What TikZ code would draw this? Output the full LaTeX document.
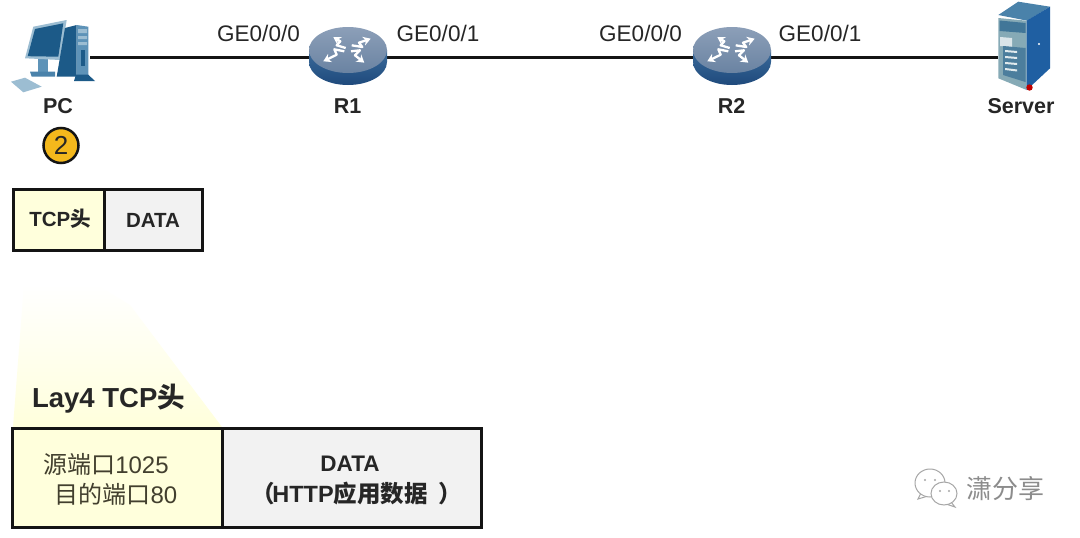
\documentclass[tikz,border=0pt]{standalone}
\usepackage{fontspec}
\setmainfont{Liberation Sans}
\newfontfamily\cjk{Noto Sans CJK SC}
\usetikzlibrary{arrows.meta}
\newcommand{\fsz}[1]{\fontsize{#1}{#1}\selectfont}
\definecolor{linkc}{HTML}{141414}
\definecolor{txtc}{HTML}{262626}
\definecolor{hdrc}{HTML}{FFFFDC}
\definecolor{datac}{HTML}{F2F2F2}
\definecolor{rtopa}{HTML}{8C9FB8}
\definecolor{rtopb}{HTML}{6A83A2}
\definecolor{rsidea}{HTML}{3A6A9A}
\definecolor{rsideb}{HTML}{1F4A7C}
\definecolor{pcdark}{HTML}{1C5A88}
\definecolor{pcmid}{HTML}{5E93B8}
\definecolor{pclight}{HTML}{9CBDD2}
\definecolor{srvside}{HTML}{1F5FA2}
\definecolor{srvfront}{HTML}{86AAB6}
\definecolor{badge}{HTML}{F4B81C}
\tikzset{
  iconbox/.style={inner sep=0pt,minimum height=40pt},
  link/.style={draw=linkc,line width=3pt},
  port/.style={text=txtc,font=\fsz{22.5},inner sep=0pt},
  devname/.style={text=txtc,font=\fsz{21.5}\bfseries,inner sep=0pt},
  cell/.style={draw=linkc,line width=3pt,outer sep=0pt,inner sep=0pt,anchor=north west},
  hdrtext/.style={text=txtc,font=\fsz{20.5}\bfseries,inner sep=0pt},
  wm/.style={draw=black!35,line width=1pt,fill=white},
  rarrow/.style={draw=white,line width=2.3pt,line join=round,-{Stealth[length=7.5pt,width=9pt]}},
  pics/router/.style={code={
    \shade[top color=rsidea,bottom color=rsideb] (-39,-7) -- (-39,5) arc[start angle=180,end angle=0,x radius=39,y radius=23] -- (39,-7) -- cycle;
    \shade[top color=rtopa,bottom color=rtopb] (0,-7) ellipse[x radius=39,y radius=23];
    \draw[rarrow] (-2.3,-9) -- (-11.3,-11.7) -- (-7.7,-15.7) -- (-14.7,-20);
    \draw[rarrow] (3.7,-11.7) -- (14.3,-10) -- (11,-14.3) -- (22.7,-18.3);
    \draw[rarrow] (-3.7,-5.7) -- (-13.7,-7.7) -- (-11.3,-2.3) -- (-24.7,4.3);
    \draw[rarrow] (3,-5.7) -- (12,-6.7) -- (7,-1.7) -- (16.3,5.7);
  }}
}
\begin{document}
\begin{tikzpicture}[x=1pt,y=-1pt]
\useasboundingbox (0,0) rectangle (1080,538);
\fill[white] (0,0) rectangle (1080,538);

% nodes standing for the device icons
\node[iconbox,minimum width=46pt] (pc) at (67,57) {};
\node[iconbox,minimum width=76pt] (r1) at (348,57) {};
\node[iconbox,minimum width=76pt] (r2) at (732,57) {};
\node[iconbox,minimum width=52pt] (srv) at (1024,57) {};

% links
\draw[link] (pc.east) -- (r1.west);
\draw[link] (r1.east) -- (r2.west);
\draw[link] (r2.east) -- (srv.west);

% PC icon
\fill[pcmid] (38,58) rectangle (48,72);
\fill[pcmid!70!pcdark] (30,71.7) -- (55,71.7) -- (55,76.7) -- (31.7,76.7) -- cycle;
\fill[pclight] (33.3,26.7) -- (66.7,20) -- (60,60) -- (25,58.3) -- cycle;
\fill[pcdark] (35,29) -- (63.3,23.3) -- (58.3,56.7) -- (27.7,56.2) -- cycle;
\fill[pcdark] (65,28) -- (76.7,25) -- (76.7,76.7) -- (56.7,76.7) -- cycle;
\fill[pcmid] (76.7,25) -- (88.3,26.7) -- (88.3,76.7) -- (76.7,76.7) -- cycle;
\fill[pclight] (78,29) rectangle (87,33) (78,36) rectangle (87,39) (78,42) rectangle (87,45);
\fill[pcdark] (81,50) rectangle (84.5,66);
\fill[pcdark] (76,74.5) -- (88,74.5) -- (95,81) -- (74,81) -- cycle;
\fill[pclight] (11,81.7) -- (25,77.7) -- (41.7,86.7) -- (23.3,92.3) -- cycle;

% router icons
\pic at (348,57) {router};
\pic at (732,57) {router};

% server icon
\fill[pcmid!70!pcdark] (998.3,15) -- (1018.3,1.7) -- (1050,6.7) -- (1027.3,20.7) -- cycle;
\fill[srvfront] (998.3,18) -- (1026.7,20.7) -- (1026.7,90) -- (998.3,78.3) -- cycle;
\fill[srvside] (1026.7,20.7) -- (1050,6.7) -- (1050,68.3) -- (1026.7,90) -- cycle;
\fill[pcdark!65!srvfront] (999.5,20.5) -- (1025.5,23) -- (1025.5,33) -- (999.5,31) -- cycle;
\fill[white!70!srvfront] (1000,37) -- (1012,38) -- (1012,47) -- (1000,46) -- cycle;
\fill[pcdark!55!srvfront] (1003,46) -- (1025.5,48) -- (1025.5,82) -- (1003,75) -- cycle;
\fill[white!75!srvfront] (1005,50) -- (1017,51) -- (1017,53) -- (1005,52) -- cycle
  (1005,56) -- (1017,57) -- (1017,59) -- (1005,58) -- cycle
  (1005,62) -- (1017,63) -- (1017,65) -- (1005,64) -- cycle
  (1005,68) -- (1017,69.5) -- (1017,71.5) -- (1005,70) -- cycle;
\fill[white] (1039,44) circle[radius=1.2];
\fill[red!75!black] (1029.5,87.5) circle[radius=3.2];

% device and port labels
\node[port] (p1) at (258.5,33) {GE0/0/0};
\node[port] (p2) at (438,33) {GE0/0/1};
\node[port] (p3) at (640.5,33) {GE0/0/0};
\node[port] (p4) at (820,33) {GE0/0/1};
\node[devname] (lpc) at (58,106) {PC};
\node[devname] (lr1) at (347.5,106) {R1};
\node[devname] (lr2) at (731.5,106) {R2};
\node[devname] (lsrv) at (1021,106) {Server};

% step badge
\node[circle,draw=linkc,line width=2.5pt,fill=badge,minimum size=35pt,inner sep=0pt,text=txtc,font=\fsz{26}] (step2) at (61,145.5) {2};

% small packet
\node[cell,fill=hdrc,minimum width=91pt,minimum height=61pt] (h1) at (13,189) {};
\node[cell,fill=datac,minimum width=98pt,minimum height=61pt] (d1) at (104,189) {};
\node[hdrtext] (h1t) at (60,219) {TCP{\cjk 头}};
\node[hdrtext] (d1t) at (153,220) {DATA};

% spotlight
\shade[top color=white,bottom color=hdrc] (13,427) -- (24,284) -- (95,284) -- (130,305) -- (222,427) -- cycle;

% large packet
\node[cell,fill=hdrc,minimum width=210pt,minimum height=99pt] (h2) at (12,428) {};
\node[cell,fill=datac,minimum width=259pt,minimum height=99pt] (d2) at (222,428) {};
\node[text=txtc,font=\fsz{27.5}\bfseries,inner sep=0pt] (lay) at (108.5,399) {Lay4 TCP{\cjk 头}};
\node[text=black!70!olive,font=\fsz{24},inner sep=0pt] (s1) at (106,464) {{\cjk 源端口}1025};
\node[text=black!70!olive,font=\fsz{24},inner sep=0pt] (s2) at (116,494) {{\cjk 目的端口}80};
\node[text=txtc,font=\fsz{22.5}\bfseries,inner sep=0pt] (d2a) at (350,464) {DATA};
\node[text=txtc,font=\fsz{23.5}\bfseries,inner sep=0pt] (d2b) at (356.5,494) {{\cjk （}\hspace{-2.5pt}HTTP{\cjk 应用数据}\hspace{10.5pt}{\cjk ）}};

% watermark
\draw[wm] (921,493) -- (918,499) -- (928,496);
\draw[wm] (930,483) ellipse[x radius=15,y radius=14];
\draw[wm] (951,502) -- (955,507) -- (946,504);
\draw[wm] (944,493.5) ellipse[x radius=13,y radius=11.5];
\fill[black!35] (925,480) circle[radius=1.2] (935,480) circle[radius=1.2] (940,491) circle[radius=1.1] (949,491) circle[radius=1.1];
\node[text=black!45,font=\fsz{26}\cjk,inner sep=0pt] (wmt) at (1005,489) {潇分享};
\end{tikzpicture}
\end{document}
